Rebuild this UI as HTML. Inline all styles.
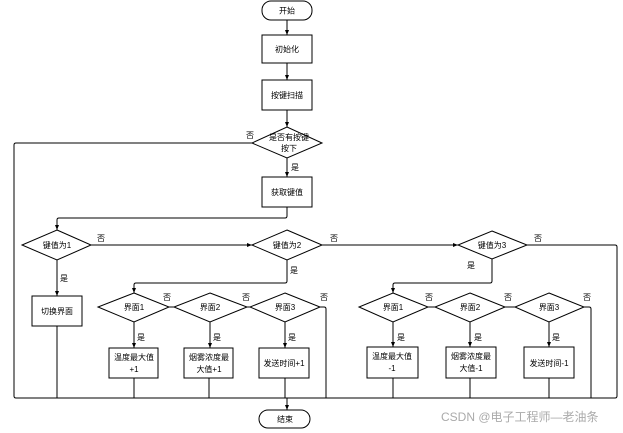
<!DOCTYPE html>
<html><head><meta charset="utf-8"><style>
html,body{margin:0;padding:0;background:#fff;}
svg{display:block;}
text{font-family:"Liberation Sans","Noto Sans CJK SC",sans-serif;font-size:8px;fill:#000;}
.s{fill:#fff;stroke:#000;stroke-width:1;}
.l{fill:none;stroke:#000;stroke-width:1;}
</style></head><body>
<svg width="623" height="433" viewBox="0 0 623 433" xmlns="http://www.w3.org/2000/svg">
<defs><marker id="a" markerWidth="6" markerHeight="6" refX="5" refY="3" orient="auto"><path d="M0,1 L5,3 L0,5 z" fill="#000"/></marker></defs>
<!-- main column -->
<rect class="s" x="262" y="1" width="50" height="19" rx="9"/><text x="287" y="13.5" text-anchor="middle">开始</text>
<line class="l" x1="287" y1="20" x2="287" y2="35" marker-end="url(#a)"/>
<rect class="s" x="262" y="35" width="50" height="28"/><text x="287" y="52" text-anchor="middle">初始化</text>
<line class="l" x1="287" y1="63" x2="287" y2="80" marker-end="url(#a)"/>
<rect class="s" x="262" y="80" width="50" height="30"/><text x="287" y="98" text-anchor="middle">按键扫描</text>
<line class="l" x1="287" y1="110" x2="287" y2="127" marker-end="url(#a)"/>
<polygon class="s" points="287,127 322,143 287,158 252,143"/>
<text x="289" y="140" text-anchor="middle">是否有按键</text><text x="289" y="151" text-anchor="middle">按下</text>
<text x="291" y="170">是</text><text x="246" y="138">否</text>
<line class="l" x1="287" y1="158" x2="287" y2="177" marker-end="url(#a)"/>
<rect class="s" x="262" y="177" width="50" height="30"/><text x="287" y="195" text-anchor="middle">获取键值</text>
<path class="l" d="M287,207 V216 Q287,218 285,218 H59 Q57,218 57,220 V230" marker-end="url(#a)"/>
<path class="l" d="M252,143 H16 Q14,143 14,145 V396 Q14,398 16,398 H615 Q617,398 617,396 V247 Q617,245 615,245 H527"/>
<!-- key 1 -->
<polygon class="s" points="57,230 91,245 57,260 22,245"/><text x="57" y="248" text-anchor="middle">键值为1</text>
<text x="97" y="241">否</text><text x="60" y="281">是</text>
<line class="l" x1="57" y1="260" x2="57" y2="296" marker-end="url(#a)"/>
<rect class="s" x="32" y="296" width="50" height="30"/><text x="57" y="314" text-anchor="middle">切换界面</text>
<line class="l" x1="57" y1="326" x2="57" y2="398"/>
<line class="l" x1="91" y1="245" x2="252" y2="245" marker-end="url(#a)"/>
<!-- key 2 -->
<polygon class="s" points="287,230 322,245 287,260 252,245"/><text x="287" y="248" text-anchor="middle">键值为2</text>
<text x="330" y="241">否</text><text x="290" y="273">是</text>
<line class="l" x1="322" y1="245" x2="458" y2="245" marker-end="url(#a)"/>
<path class="l" d="M287,260 V281 Q287,283 285,283 H136 Q134,283 134,285 V293" marker-end="url(#a)"/>
<!-- key 3 -->
<polygon class="s" points="492,231 527,245 492,259 458,245"/><text x="492" y="248" text-anchor="middle">键值为3</text>
<text x="534" y="241">否</text><text x="467" y="268">是</text>
<path class="l" d="M492,259 V281 Q492,283 490,283 H395 Q393,283 393,285 V293" marker-end="url(#a)"/>
<!-- groups -->
<g id="g1">
<polygon class="s" points="134,293 169,307 134,322 98,307"/><text x="134" y="310" text-anchor="middle">界面1</text>
<polygon class="s" points="210,293 247,307 210,322 174,307"/><text x="210" y="310" text-anchor="middle">界面2</text>
<polygon class="s" points="285,293 320,307 285,322 250,307"/><text x="285" y="310" text-anchor="middle">界面3</text>
<line class="l" x1="169" y1="307" x2="174" y2="307"/><line class="l" x1="247" y1="307" x2="250" y2="307"/>
<text x="163" y="300">否</text><text x="242" y="300">否</text><text x="320" y="300">否</text>
<text x="137" y="340">是</text><text x="213" y="340">是</text><text x="288" y="340">是</text>
<line class="l" x1="134" y1="322" x2="134" y2="348" marker-end="url(#a)"/>
<line class="l" x1="210" y1="322" x2="210" y2="348" marker-end="url(#a)"/>
<line class="l" x1="285" y1="322" x2="285" y2="348" marker-end="url(#a)"/>
<path class="l" d="M320,307 H324 Q326,307 326,309 V398"/>
<rect class="s" x="109" y="348" width="49" height="30"/><text x="134" y="360" text-anchor="middle">温度最大值</text><text x="134" y="372" text-anchor="middle">+1</text>
<rect class="s" x="184" y="348" width="49" height="30"/><text x="209" y="360" text-anchor="middle">烟雾浓度最</text><text x="209" y="372" text-anchor="middle">大值+1</text>
<rect class="s" x="259" y="348" width="50" height="30"/><text x="284" y="366" text-anchor="middle">发送时间+1</text>
<line class="l" x1="134" y1="378" x2="134" y2="398"/><line class="l" x1="209" y1="378" x2="209" y2="398"/><line class="l" x1="285" y1="378" x2="285" y2="398"/>
</g>
<g>
<polygon class="s" points="393,293 428,307 393,322 359,307"/><text x="393" y="310" text-anchor="middle">界面1</text>
<polygon class="s" points="470,293 505,307 470,322 435,307"/><text x="470" y="310" text-anchor="middle">界面2</text>
<polygon class="s" points="549,293 584,307 549,322 515,307"/><text x="549" y="310" text-anchor="middle">界面3</text>
<line class="l" x1="428" y1="307" x2="435" y2="307"/><line class="l" x1="505" y1="307" x2="515" y2="307"/>
<text x="425" y="300">否</text><text x="504" y="300">否</text><text x="583" y="300">否</text>
<text x="397" y="340">是</text><text x="474" y="340">是</text><text x="552" y="340">是</text>
<line class="l" x1="393" y1="322" x2="393" y2="347" marker-end="url(#a)"/>
<line class="l" x1="470" y1="322" x2="470" y2="347" marker-end="url(#a)"/>
<line class="l" x1="549" y1="322" x2="549" y2="347" marker-end="url(#a)"/>
<path class="l" d="M584,307 H589 Q591,307 591,309 V398"/>
<rect class="s" x="367" y="347" width="51" height="31"/><text x="392" y="359" text-anchor="middle">温度最大值</text><text x="392" y="371" text-anchor="middle">-1</text>
<rect class="s" x="446" y="347" width="50" height="31"/><text x="471" y="359" text-anchor="middle">烟雾浓度最</text><text x="471" y="371" text-anchor="middle">大值-1</text>
<rect class="s" x="524" y="347" width="50" height="31"/><text x="549" y="366" text-anchor="middle">发送时间-1</text>
<line class="l" x1="393" y1="378" x2="393" y2="398"/><line class="l" x1="470" y1="378" x2="470" y2="398"/><line class="l" x1="549" y1="378" x2="549" y2="398"/>
</g>
<line class="l" x1="287" y1="398" x2="287" y2="410" stroke-width="2" marker-end="url(#a)"/>
<rect class="s" x="259" y="410" width="51" height="18" rx="9"/><text x="285" y="422" text-anchor="middle">结束</text>
<text x="441" y="421" style="font-size:12px;fill:#aaa;">CSDN @电子工程师—老油条</text>
</svg>
</body></html>
